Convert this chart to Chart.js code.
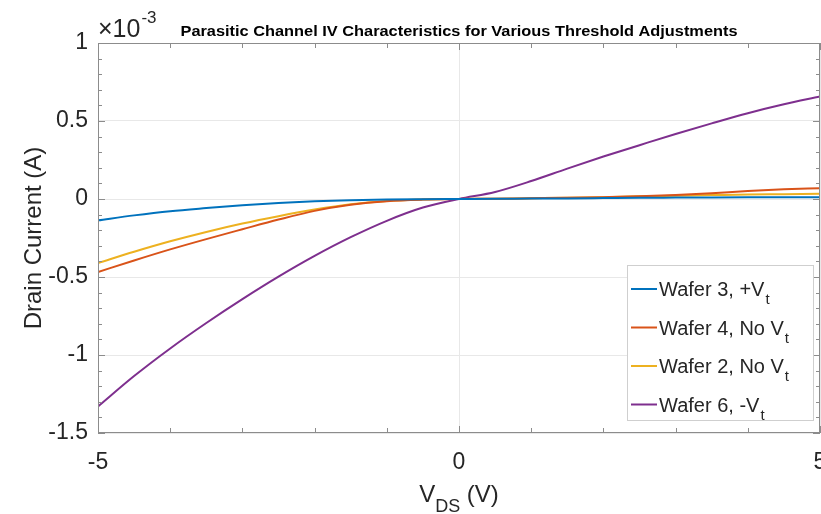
<!DOCTYPE html>
<html>
<head>
<meta charset="utf-8">
<script src="https://cdn.jsdelivr.net/npm/chart.js@4.4.1/dist/chart.umd.min.js"></script>
<style>
  html, body { margin: 0; padding: 0; background: #fff; }
  #wrap { width: 821px; height: 514px; }
</style>
</head>
<body>
<div id="wrap"><canvas id="ivChart" width="821" height="514"></canvas></div>
<script>
// drain current in units of 1e-3 A
const vds = [-5, -4.5, -4, -3.5, -3, -2.5, -2, -1.5, -1, -0.5, 0, 0.5, 1, 1.5, 2, 2.5, 3, 3.5, 4, 4.5, 5];
const wafer3 = [-0.137, -0.105, -0.078, -0.058, -0.040, -0.026, -0.015, -0.008, -0.003, -0.001, 0, 0.001, 0.003, 0.004, 0.006, 0.008, 0.009, 0.010, 0.011, 0.012, 0.012];
const wafer4 = [-0.468, -0.394, -0.323, -0.257, -0.194, -0.132, -0.076, -0.037, -0.014, -0.004, 0, 0.002, 0.005, 0.008, 0.012, 0.017, 0.025, 0.037, 0.051, 0.062, 0.069];
const wafer2 = [-0.410, -0.338, -0.271, -0.211, -0.157, -0.110, -0.068, -0.034, -0.013, -0.003, 0, 0.002, 0.005, 0.008, 0.012, 0.017, 0.021, 0.025, 0.029, 0.031, 0.033];
const wafer6 = [-1.33, -1.135, -0.958, -0.795, -0.642, -0.498, -0.365, -0.245, -0.14, -0.055, 0, 0.045, 0.115, 0.195, 0.272, 0.345, 0.417, 0.485, 0.55, 0.607, 0.657];

const seriesNames = ['Wafer 3, +V', 'Wafer 4, No V', 'Wafer 2, No V', 'Wafer 6, -V'];
const seriesColors = ['#0072BD', '#D95319', '#EDB120', '#7E2F8E'];
const seriesData = [wafer3, wafer4, wafer2, wafer6];
const xTickLabels = [-5, 0, 5];
const chartTitle = 'Parasitic Channel IV Characteristics for Various Threshold Adjustments';

const axisColor = '#262626';
const boxColor = '#8c8c8c';
const fontFam = '"Liberation Sans", Arial, sans-serif';

function pts(ys) {
  return vds.map((x, i) => ({ x: x, y: ys[i] }));
}

// MATLAB-like box, inward ticks, title, exponent, x labels and legend
const matlabDecor = {
  id: 'matlabDecor',
  afterDraw(chart) {
    const ctx = chart.ctx;
    const a = chart.chartArea;
    const xs = chart.scales.x, ys = chart.scales.y;
    ctx.save();
    ctx.strokeStyle = boxColor;
    ctx.lineWidth = 1;
    ctx.strokeRect(a.left + 0.5, a.top + 0.5, a.right - a.left - 1, a.bottom - a.top - 1);

    // y ticks (major 0.5, minor 0.1)
    for (let k = -15; k <= 10; k++) {
      const py = Math.round(ys.getPixelForValue(k / 10)) + 0.5;
      const len = (k % 5 === 0) ? 7 : 4;
      ctx.beginPath();
      ctx.moveTo(a.left, py); ctx.lineTo(a.left + len, py);
      ctx.moveTo(a.right, py); ctx.lineTo(a.right - len, py);
      ctx.stroke();
    }
    // x ticks every 1 V
    for (let v = -5; v <= 5; v++) {
      const px = Math.round(xs.getPixelForValue(v)) + 0.5;
      const len = (v % 5 === 0) ? 7 : 5;
      ctx.beginPath();
      ctx.moveTo(px, a.bottom); ctx.lineTo(px, a.bottom - len);
      ctx.moveTo(px, a.top); ctx.lineTo(px, a.top + len);
      ctx.stroke();
    }

    ctx.fillStyle = axisColor;
    ctx.textBaseline = 'alphabetic';

    // x tick labels
    ctx.textAlign = 'center';
    ctx.font = '23px ' + fontFam;
    xTickLabels.forEach(v => {
      ctx.fillText(String(v), xs.getPixelForValue(v), a.bottom + 36);
    });

    // title, condensed bold
    ctx.fillStyle = '#000';
    ctx.font = 'bold 15px "Liberation Sans Narrow", "Liberation Sans", Arial';
    const tw = ctx.measureText(chartTitle).width;
    ctx.save();
    ctx.translate(459, 36);
    ctx.scale(557 / tw, 1);
    ctx.fillText(chartTitle, 0, 0);
    ctx.restore();

    // exponent label
    ctx.fillStyle = axisColor;
    ctx.textAlign = 'left';
    ctx.font = '25px ' + fontFam;
    ctx.fillText('\u00d710', 98, 37);
    const w10 = ctx.measureText('\u00d710').width;
    ctx.font = '17px ' + fontFam;
    ctx.fillText('-3', 98 + w10 + 1, 23);

    // x axis label V_DS (V)
    ctx.font = '24px ' + fontFam;
    const wV = ctx.measureText('V').width;
    const wRest = ctx.measureText(' (V)').width;
    ctx.font = '18px ' + fontFam;
    const wDS = ctx.measureText('DS').width;
    const sx = (a.left + a.right) / 2 - (wV + wDS + wRest) / 2;
    ctx.font = '24px ' + fontFam;
    ctx.fillText('V', sx, 502);
    ctx.font = '18px ' + fontFam;
    ctx.fillText('DS', sx + wV, 512);
    ctx.font = '24px ' + fontFam;
    ctx.fillText(' (V)', sx + wV + wDS, 502);

    // legend
    const lx = 627, ly = 265, lw = 186, lh = 155;
    ctx.fillStyle = '#ffffff';
    ctx.fillRect(lx, ly, lw, lh);
    ctx.strokeStyle = '#cfcfcf';
    ctx.lineWidth = 1;
    ctx.strokeRect(lx + 0.5, ly + 0.5, lw, lh);
    for (let i = 0; i < seriesNames.length; i++) {
      const yy = 289 + i * 38.5;
      ctx.strokeStyle = seriesColors[i];
      ctx.lineWidth = 2;
      ctx.beginPath();
      ctx.moveTo(631, yy); ctx.lineTo(657, yy);
      ctx.stroke();
      ctx.fillStyle = axisColor;
      ctx.font = '20px ' + fontFam;
      ctx.fillText(seriesNames[i], 659, yy + 7);
      const nw = ctx.measureText(seriesNames[i]).width;
      ctx.font = '15px ' + fontFam;
      ctx.fillText('t', 659 + nw + 1, yy + 15);
    }
    ctx.restore();
  }
};

const datasets = seriesNames.map((n, i) => ({
  label: n + 't',
  data: pts(seriesData[i]),
  borderColor: seriesColors[i],
  backgroundColor: seriesColors[i],
  borderWidth: 2,
  pointRadius: 0,
  cubicInterpolationMode: 'monotone',
  fill: false
}));

new Chart(document.getElementById('ivChart'), {
  type: 'line',
  data: { datasets: datasets },
  options: {
    responsive: false,
    animation: false,
    layout: { padding: { top: 43, right: 1, left: 0, bottom: 0 } },
    plugins: {
      legend: { display: false },
      tooltip: { enabled: false }
    },
    scales: {
      x: {
        type: 'linear',
        min: -5, max: 5,
        border: { display: false },
        grid: { color: '#e8e8e8', drawTicks: false },
        ticks: { stepSize: 5, display: false },
        afterFit(s) { s.height = 81; }
      },
      y: {
        min: -1.5, max: 1,
        border: { display: false },
        grid: { color: '#e8e8e8', drawTicks: false },
        ticks: {
          stepSize: 0.5, color: axisColor, padding: 10,
          font: { family: fontFam, size: 23 },
          callback: v => String(Math.round(v * 10) / 10)
        },
        title: { display: true, text: 'Drain Current (A)', color: axisColor, font: { family: fontFam, size: 24 }, padding: { top: 20, bottom: 0 } },
        afterFit(s) { s.width = 98; }
      }
    }
  },
  plugins: [matlabDecor]
});
</script>
</body>
</html>
